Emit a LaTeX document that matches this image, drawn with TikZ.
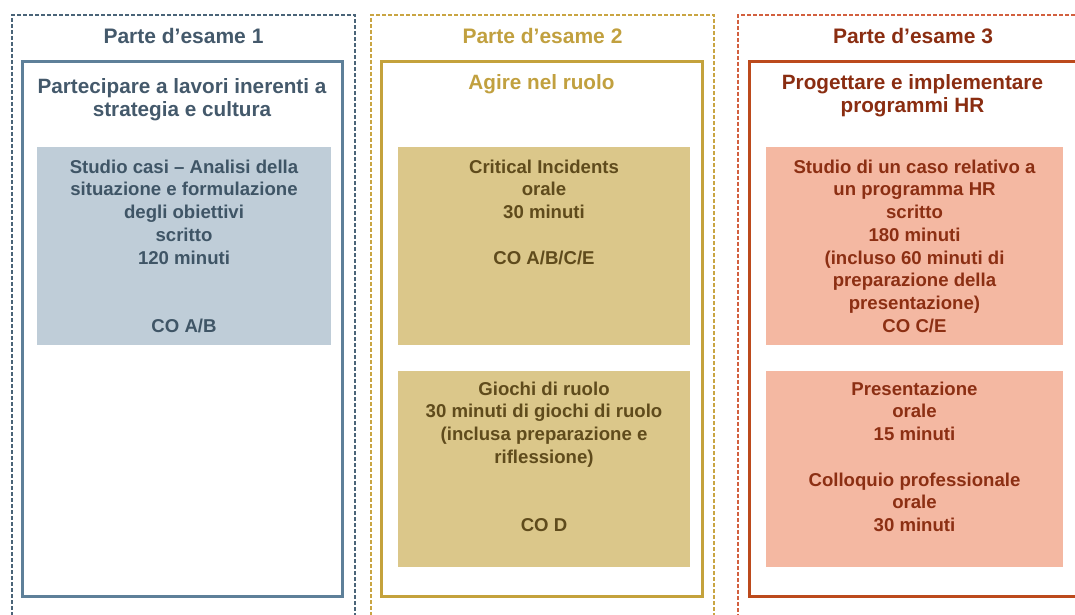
\documentclass[tikz,border=0pt]{standalone}
\usepackage{fontspec}
\setmainfont{Liberation Sans}
\definecolor{dashA}{HTML}{4A6478}
\definecolor{dashB}{HTML}{C9A543}
\definecolor{dashC}{HTML}{D2603F}
\definecolor{frameA}{HTML}{5E8099}
\definecolor{frameB}{HTML}{C4A23C}
\definecolor{frameC}{HTML}{BC4A1C}
\definecolor{headA}{HTML}{44596B}
\definecolor{headB}{HTML}{C1A03F}
\definecolor{headC}{HTML}{8A2D11}
\definecolor{fillA}{HTML}{BFCDD8}
\definecolor{fillB}{HTML}{DBC78A}
\definecolor{fillC}{HTML}{F4B8A2}
\definecolor{txtA}{HTML}{3F5566}
\definecolor{txtB}{HTML}{5F4B1C}
\definecolor{txtC}{HTML}{8C2F13}
\begin{document}
\begin{tikzpicture}[x=1pt,y=-1pt,
  dashbox/.style={draw, line width=1.3pt, dash pattern=on 4pt off 2pt, inner sep=0, minimum height=625pt},
  framebox/.style={draw, line width=3pt, inner sep=0, minimum height=534pt},
  card/.style={inner sep=0, draw=none},
  title/.style={font=\fontsize{21}{24}\selectfont\bfseries, anchor=base, inner sep=0},
  sub/.style={font=\fontsize{20.7}{23}\selectfont\bfseries, align=center, anchor=north, inner sep=0},
  cardtext/.style={font=\fontsize{18.6}{22.7}\selectfont\bfseries, align=center, anchor=north, inner sep=0}]
\useasboundingbox (0,0) rectangle (1075,615);
\clip (0,0) rectangle (1075,615);
% outer dashed boxes
\node[dashbox, draw=dashA, minimum width=343pt] (o1) at (183.5,327.5) {};
\node[dashbox, draw=dashB, minimum width=343pt] (o2) at (542.5,327.5) {};
\node[dashbox, draw=dashC, minimum width=357pt] (o3) at (916.5,327.5) {};
% titles
\node[title, text=headA] (h1) at (183.5,44) {Parte d’esame 1};
\node[title, text=headB] (h2) at (542.5,44) {Parte d’esame 2};
\node[title, text=headC] (h3) at (913,44) {Parte d’esame 3};
% frames
\node[framebox, draw=frameA, minimum width=320pt] (p1) at (182,329) {};
\node[framebox, draw=frameB, minimum width=321pt] (p2) at (541.5,329) {};
\node[framebox, draw=frameC, minimum width=327pt] (p3) at (912.5,329) {};
% subtitles
\node[sub, text=headA] (s1) at (182,77) {\rule{0pt}{16pt}Partecipare a lavori inerenti a\\strategia e cultura};
\node[sub, text=headB] (s2) at (541.5,73) {\rule{0pt}{16pt}Agire nel ruolo};
\node[sub, text=headC] (s3) at (912.5,73) {\rule{0pt}{16pt}Progettare e implementare\\programmi HR};
% cards
\node[card, fill=fillA, minimum width=294pt, minimum height=198pt] (f1) at (184,246) {};
\node[card, fill=fillB, minimum width=292pt, minimum height=198pt] (f2a) at (544,246) {};
\node[card, fill=fillB, minimum width=292pt, minimum height=196pt] (f2b) at (544,469) {};
\node[card, fill=fillC, minimum width=297pt, minimum height=198pt] (f3a) at (914.5,246) {};
\node[card, fill=fillC, minimum width=297pt, minimum height=196pt] (f3b) at (914.5,469) {};
% card texts
\node[cardtext, text=txtA] (c1) at (184,158) {\rule{0pt}{15pt}Studio casi – Analisi della\\situazione e formulazione\\degli obiettivi\\scritto\\120 minuti\\[45.4pt]CO A/B};
\node[cardtext, text=txtB] (c2a) at (544,158) {\rule{0pt}{15pt}Critical Incidents\\orale\\30 minuti\\[22.7pt]CO A/B/C/E};
\node[cardtext, text=txtB] (c2b) at (544,380) {\rule{0pt}{15pt}Giochi di ruolo\\30 minuti di giochi di ruolo\\(inclusa preparazione e\\riflessione)\\[45.4pt]CO D};
\node[cardtext, text=txtC] (c3a) at (914.5,158) {\rule{0pt}{15pt}Studio di un caso relativo a\\un programma HR\\scritto\\180 minuti\\(incluso 60 minuti di\\preparazione della\\presentazione)\\CO C/E};
\node[cardtext, text=txtC] (c3b) at (914.5,380) {\rule{0pt}{15pt}Presentazione\\orale\\15 minuti\\[22.7pt]Colloquio professionale\\orale\\30 minuti};
\end{tikzpicture}
\end{document}
